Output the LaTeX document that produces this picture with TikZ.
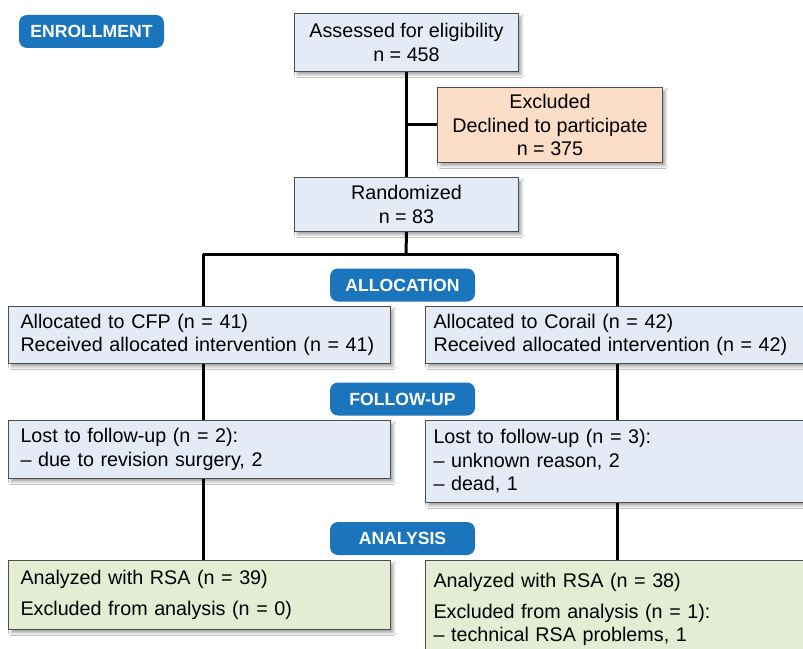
\documentclass[tikz,border=0pt]{standalone}
\usepackage{fontspec}
\setmainfont{Liberation Sans}
\usetikzlibrary{shadows.blur,backgrounds}
\definecolor{boxblue}{HTML}{E5EBF6}
\definecolor{boxpeach}{HTML}{FCDDC7}
\definecolor{boxgreen}{HTML}{E3EDD4}
\definecolor{boxline}{HTML}{4D4D4D}
\definecolor{labelblue}{HTML}{1B75BC}
\begin{document}
\begin{tikzpicture}[x=0.75pt,y=-0.75pt,
  box/.style={draw=boxline, line width=0.75pt, fill=boxblue, inner sep=0pt, anchor=north west,
    blur shadow={shadow xshift=2pt, shadow yshift=-2.5pt, shadow blur radius=2pt, shadow opacity=35},
    font=\fontsize{14.8}{17.6}\selectfont},
  cbox/.style={box, align=center},
  lbox/.style={box, align=left, inner xsep=9pt},
  rbox/.style={box, align=left, inner xsep=6pt},
  phase/.style={fill=labelblue, rounded corners=6pt, text=white, inner sep=0pt,
    minimum width=108.75pt, minimum height=24.75pt,
    font=\bfseries\fontsize{13.2}{15}\selectfont},
  conn/.style={line width=2.25pt, black}]
\useasboundingbox (0,0) rectangle (803,649);
\clip (0,0) rectangle (803,649);

\node[phase] (enroll) at (91.5,31.5) {ENROLLMENT};
\node[phase] (alloc) at (402.5,285) {ALLOCATION};
\node[phase] (follow) at (402.5,399) {FOLLOW-UP};
\node[phase] (analysis) at (402.5,538.5) {ANALYSIS};

\node[cbox, minimum width=168pt, minimum height=43.5pt] (assess) at (294,13)
  {Assessed for eligibility\\[0.4pt]n = 458};
\node[cbox, fill=boxpeach, minimum width=168.75pt, minimum height=56.25pt] (excl) at (437,87)
  {Excluded\\Declined to participate\\n = 375};
\node[cbox, minimum width=168pt, minimum height=40.5pt] (rand) at (294,177)
  {Randomized\\n = 83};

\node[lbox, text width=268.5pt, minimum height=42.75pt] (b2L) at (8,306)
  {Allocated to CFP (n = 41)\\Received allocated intervention (n = 41)};
\node[rbox, text width=280.5pt, minimum height=42.75pt] (b2R) at (425,306)
  {Allocated to Corail (n = 42)\\Received allocated intervention (n = 42)};

\node[lbox, text width=268.5pt, minimum height=43.5pt] (b3L) at (8,420)
  {Lost to follow-up (n = 2):\\– due to revision surgery, 2};
\node[rbox, text width=280.5pt, minimum height=61.5pt] (b3R) at (425,420)
  {Lost to follow-up (n = 3):\\– unknown reason, 2\\– dead, 1};

\node[lbox, fill=boxgreen, text width=268.5pt, minimum height=51.75pt] (b4L) at (8,560)
  {Analyzed with RSA (n = 39)\\[5.25pt]Excluded from analysis (n = 0)};
\node[rbox, fill=boxgreen, text width=280.5pt, minimum height=74pt] (b4R) at (425,560)
  {Analyzed with RSA (n = 38)\\[5.25pt]Excluded from analysis (n = 1):\\– technical RSA problems, 1};

\coordinate (jM) at (406,254);
\coordinate (jL) at (203,254);
\coordinate (jR) at (617,254);

\begin{scope}[on background layer]
\fill[white] (0,0) rectangle (803,649);
\draw[conn] (assess.south) -- (rand.north);
\draw[conn] (excl.west) -- (excl.west -| assess.south);
\draw[conn] (rand.south) -- (jM);
\draw[conn] (jL) -- (jR);
\draw[conn] (jL) -- (jL |- b2L.north);
\draw[conn] (jR) -- (jR |- b2R.north);
\draw[conn] (b2L.south -| jL) -- (b3L.north -| jL);
\draw[conn] (b2R.south -| jR) -- (b3R.north -| jR);
\draw[conn] (b3L.south -| jL) -- (b4L.north -| jL);
\draw[conn] (b3R.south -| jR) -- (b4R.north -| jR);
\end{scope}
\end{tikzpicture}
\end{document}
